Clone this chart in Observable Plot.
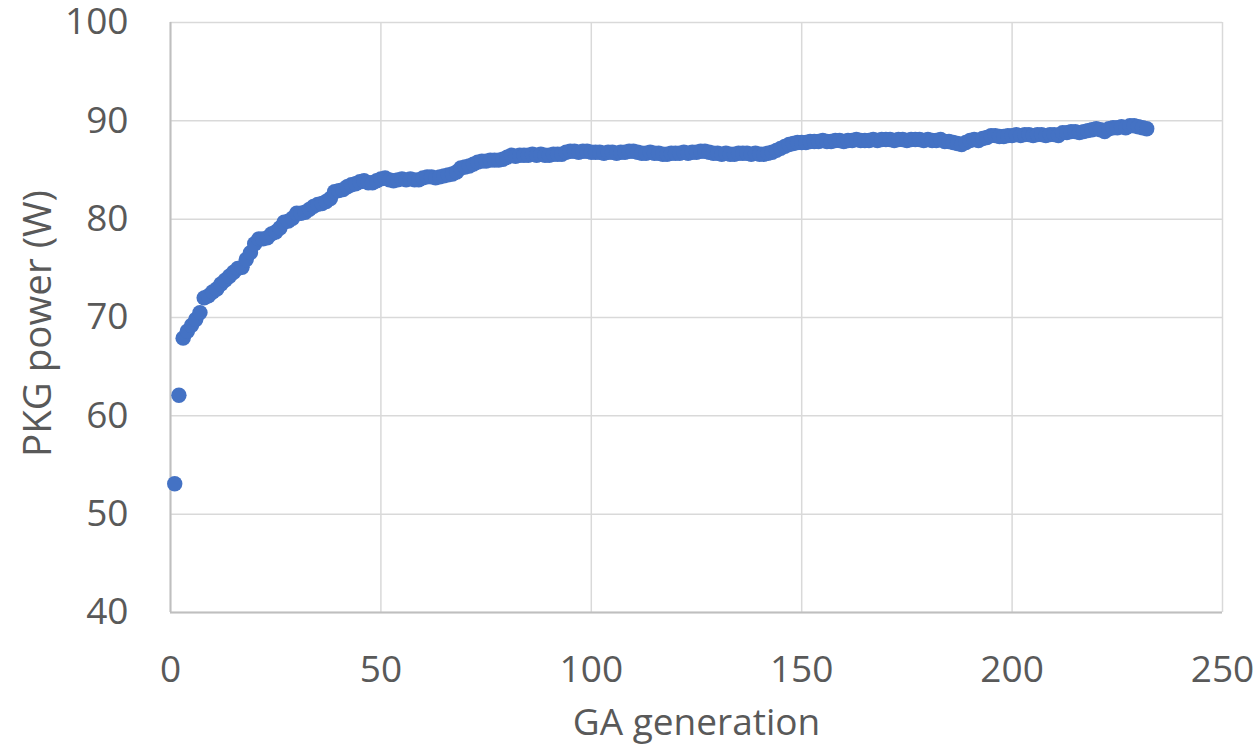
<!DOCTYPE html>
<html>
<head>
<meta charset="utf-8">
<script src="https://cdn.jsdelivr.net/npm/d3@7"></script>
<script src="https://cdn.jsdelivr.net/npm/@observablehq/plot@0.6"></script>
<style>
  html, body { margin: 0; padding: 0; background: #ffffff; }
  #chart svg { display: block; }
</style>
</head>
<body>
<div id="chart"></div>
<script>
// GA generation ticks and PKG power ticks
const xTicks = [0, 50, 100, 150, 200, 250];
const yTicks = [40, 50, 60, 70, 80, 90, 100];
const xTitle = "GA generation";
const yTitle = "PKG power (W)";

// PKG power (W) for generations 1..232
const power = [
  53.1, 62.1, 67.9, 68.6, 69.2, 69.8, 70.5, 72.0, 72.2, 72.6,
  72.9, 73.4, 73.8, 74.2, 74.6, 75.0, 75.1, 75.9, 76.6, 77.5,
  78.0, 78.0, 78.1, 78.5, 78.7, 79.1, 79.7, 79.8, 80.1, 80.6,
  80.6, 80.7, 81.0, 81.3, 81.5, 81.6, 81.8, 82.1, 82.8, 82.9,
  83.0, 83.3, 83.5, 83.6, 83.8, 83.9, 83.7, 83.7, 83.9, 84.1,
  84.2, 84.0, 83.9, 84.0, 84.1, 84.0, 84.1, 84.0, 84.0, 84.2,
  84.3, 84.3, 84.2, 84.3, 84.4, 84.5, 84.6, 84.8, 85.2, 85.3,
  85.4, 85.6, 85.8, 85.9, 85.9, 86.0, 86.0, 86.0, 86.1, 86.3,
  86.5, 86.4, 86.5, 86.5, 86.5, 86.6, 86.5, 86.6, 86.5, 86.5,
  86.6, 86.6, 86.6, 86.8, 86.9, 86.9, 86.8, 86.9, 86.9, 86.8,
  86.8, 86.8, 86.7, 86.8, 86.8, 86.7, 86.8, 86.8, 86.9, 86.9,
  86.8, 86.7, 86.7, 86.8, 86.7, 86.7, 86.6, 86.6, 86.7, 86.7,
  86.7, 86.8, 86.7, 86.8, 86.8, 86.9, 86.9, 86.8, 86.7, 86.7,
  86.6, 86.7, 86.6, 86.6, 86.7, 86.7, 86.7, 86.6, 86.7, 86.6,
  86.6, 86.7, 86.8, 87.0, 87.2, 87.4, 87.6, 87.7, 87.8, 87.8,
  87.8, 87.9, 87.9, 87.9, 88.0, 87.9, 87.9, 88.0, 88.0, 87.9,
  88.0, 88.0, 88.1, 88.0, 88.0, 88.0, 88.1, 88.0, 88.1, 88.1,
  88.1, 88.0, 88.1, 88.1, 88.0, 88.1, 88.1, 88.1, 88.0, 88.1,
  88.0, 88.0, 88.1, 87.9, 87.9, 87.8, 87.7, 87.6, 87.8, 88.0,
  88.1, 88.0, 88.2, 88.3, 88.5, 88.5, 88.4, 88.4, 88.5, 88.5,
  88.6, 88.5, 88.6, 88.6, 88.5, 88.6, 88.6, 88.5, 88.6, 88.6,
  88.5, 88.8, 88.8, 88.9, 88.9, 88.8, 88.9, 89.0, 89.1, 89.2,
  89.1, 88.9, 89.2, 89.3, 89.3, 89.4, 89.3, 89.5, 89.5, 89.4,
  89.3, 89.2
];

const data = power.map((v, i) => ({generation: i + 1, power: v}));

const textColor = "#595959";

const chart = Plot.plot({
  width: 1260,
  height: 749,
  marginLeft: 170,
  marginRight: 38,
  marginTop: 22,
  marginBottom: 137,
  style: {fontFamily: "'Open Sans', sans-serif", background: "#ffffff", overflow: "visible"},
  x: {domain: [0, 250]},
  y: {domain: [40, 100]},
  marks: [
    Plot.gridX(xTicks, {stroke: "#d9d9d9", strokeOpacity: 1, strokeWidth: 1.5}),
    Plot.gridY(yTicks, {stroke: "#d9d9d9", strokeOpacity: 1, strokeWidth: 1.5}),
    Plot.ruleX([0], {stroke: "#bfbfbf", strokeWidth: 2}),
    Plot.ruleY([40], {stroke: "#bfbfbf", strokeWidth: 2}),
    Plot.axisX(xTicks, {tickSize: 0, tickPadding: 43, fontSize: 37, fill: textColor, label: null}),
    Plot.axisY(yTicks, {tickSize: 0, tickPadding: 42, fontSize: 37, fill: textColor, label: null}),
    Plot.dot(data, {x: "generation", y: "power", r: 7.7, fill: "#4472c4", stroke: null}),
    Plot.text([xTitle], {frameAnchor: "bottom", dy: 122, fontSize: 37, fill: textColor, textAnchor: "middle"}),
    Plot.text([yTitle], {frameAnchor: "left", dx: -132, dy: 6, rotate: -90, fontSize: 38.5, fill: textColor, textAnchor: "middle"})
  ]
});

document.getElementById("chart").appendChild(chart);
</script>
</body>
</html>
